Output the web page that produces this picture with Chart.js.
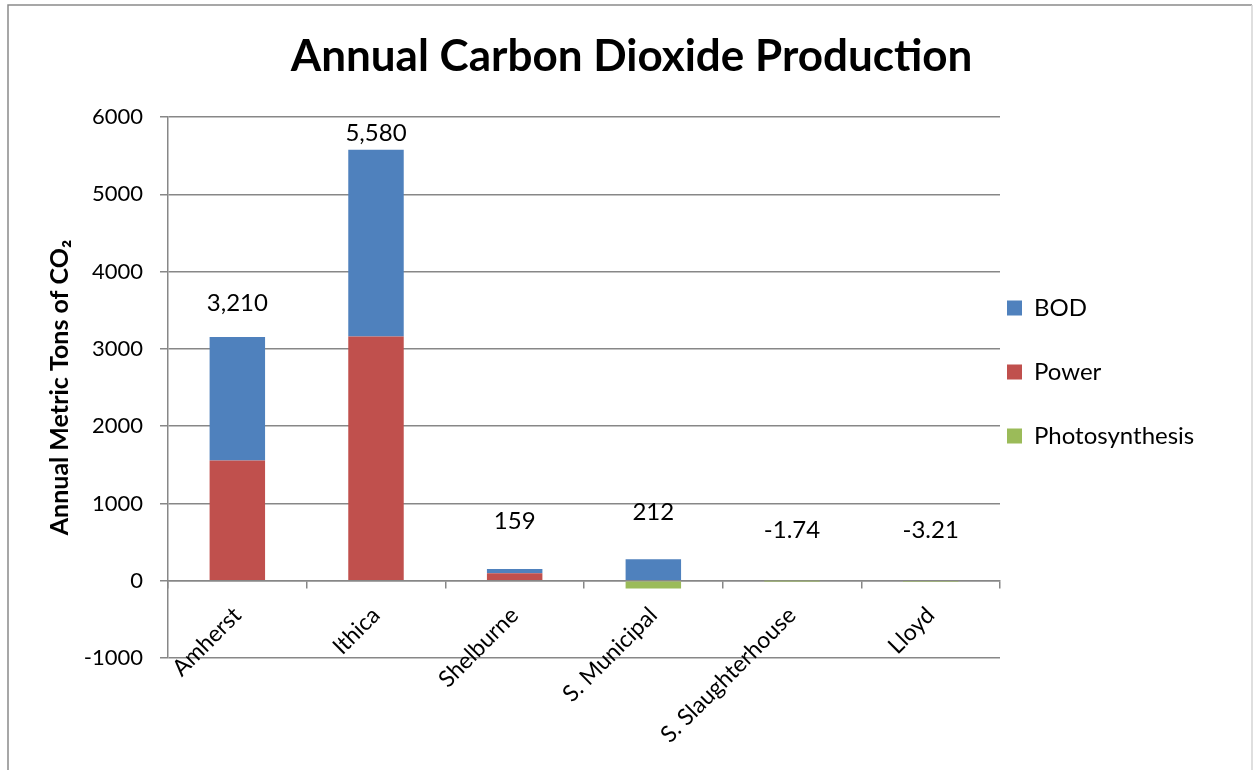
<!DOCTYPE html>
<html><head><meta charset="utf-8">
<script src="https://cdn.jsdelivr.net/npm/chart.js@4"></script>
<style>html,body{margin:0;padding:0;background:#fff;} canvas{display:block;}</style>
</head><body>
<canvas id="c" width="1255" height="770"></canvas>
<script>
// ---- data ----
const categories = ['Amherst', 'Ithica', 'Shelburne', 'S. Municipal', 'S. Slaughterhouse', 'Lloyd'];
const powerValues = [1554, 3159, 95, 0, 0, 0];
const bodValues = [1598, 2416, 57, 277, 0, 0];
const photosynthesisValues = [0, 0, 0, -100, -1.74, -3.21];
const totalLabels = ['3,210', '5,580', '159', '212', '-1.74', '-3.21'];
const yTickValues = [-1000, 0, 1000, 2000, 3000, 4000, 5000, 6000];

// ---- layout / style ----
const FONT = 'Lato';
const labelOffsetsPx = [34, 17, 48, 47, 50, 50];
const plotLeft = 168, plotRight = 1000, plotTop = 117, W = 1255, H = 770, padTop = 5;
const legendPad = 7, legendBox = 15, legendFontSize = 24;
const firstLegendCenterY = 308;
const mctx = document.createElement('canvas').getContext('2d');
mctx.font = legendFontSize + 'px ' + FONT;
const legendTextW = Math.max(...['BOD', 'Power', 'Photosynthesis'].map(t => mctx.measureText(t).width));
const legendW = legendPad + legendBox + legendFontSize / 2 + legendTextW + 10;
const padR = Math.max(0, W - plotRight - legendW);
const padL = padR + 8;
const yTitleCenterX = 60;
const yTitleSize = 25;
const legendShift = firstLegendCenterY - legendFontSize / 2 - padTop - legendPad;
const grid = '#878787';

const framePlugin = {
  id: 'frame',
  beforeDraw(chart) {
    const c = chart.ctx;
    c.save();
    c.fillStyle = '#fff';
    c.fillRect(0, 0, chart.width, chart.height);
    c.lineWidth = 1.5;
    c.strokeStyle = '#8a8a8a';
    c.beginPath(); c.moveTo(8, H + 5); c.lineTo(8, 5); c.lineTo(1252, 5); c.stroke();
    c.strokeStyle = '#d4d4d4';
    c.beginPath(); c.moveTo(1252, 5); c.lineTo(1252, H + 5); c.stroke();
    c.restore();
  }
};

const totalsPlugin = {
  id: 'totals',
  afterDatasetsDraw(chart) {
    const ys = chart.scales.y, xs = chart.scales.x, ctx = chart.ctx;
    ctx.save();
    ctx.font = '24px ' + FONT;
    ctx.fillStyle = '#000';
    ctx.textAlign = 'center';
    ctx.textBaseline = 'middle';
    categories.forEach((c, i) => {
      const pos = Math.max(0, powerValues[i]) + Math.max(0, bodValues[i]) + Math.max(0, photosynthesisValues[i]);
      const top = ys.getPixelForValue(pos);
      ctx.fillText(totalLabels[i], xs.getPixelForValue(i), top - labelOffsetsPx[i]);
    });
    ctx.restore();
  }
};

const legendOrder = {1: 0, 0: 1, 2: 2};

new Chart(document.getElementById('c'), {
  type: 'bar',
  data: {
    labels: categories,
    datasets: [
      { label: 'Power', data: powerValues, backgroundColor: '#C0504D', borderWidth: 0 },
      { label: 'BOD', data: bodValues, backgroundColor: '#4F81BD', borderWidth: 0 },
      { label: 'Photosynthesis', data: photosynthesisValues, backgroundColor: '#9BBB59', borderWidth: 0 }
    ]
  },
  options: {
    responsive: false,
    animation: false,
    devicePixelRatio: 1,
    barPercentage: 0.4,
    categoryPercentage: 1.0,
    layout: { padding: { left: padL, right: padR, top: padTop, bottom: H - 658 } },
    plugins: {
      title: {
        display: true,
        text: 'Annual Carbon Dioxide Production',
        color: '#000',
        font: { family: FONT, size: 44, weight: 'bold', lineHeight: '48px' },
        padding: { top: 28, bottom: plotTop - padTop - 28 - 48 }
      },
      legend: {
        display: true,
        position: 'right',
        align: 'start',
        title: { display: true, text: '', font: { size: 10, lineHeight: '10px' }, padding: { top: legendShift - 10, bottom: 0 } },
        labels: {
          color: '#000',
          boxWidth: legendBox,
          boxHeight: legendBox,
          padding: legendPad,
          font: { family: FONT, size: legendFontSize, lineHeight: '57px' },
          generateLabels(chart) {
            return Chart.defaults.plugins.legend.labels.generateLabels(chart)
              .map(it => Object.assign(it, { text: [it.text] }));
          },
          sort(a, b) { return legendOrder[a.datasetIndex] - legendOrder[b.datasetIndex]; }
        }
      },
      tooltip: { enabled: false }
    },
    scales: {
      x: {
        type: 'category',
        stacked: true,
        position: { y: 0 },
        offset: true,
        grid: { display: true, drawOnChartArea: false, drawTicks: true, tickLength: 7, color: grid, lineWidth: 1.5, offset: true },
        border: { display: true, color: grid, width: 1.5 },
        ticks: { font: { family: FONT, size: 23 }, color: '#000', minRotation: 45, maxRotation: 45, autoSkip: false, padding: 14 }
      },
      y: {
        stacked: true,
        min: yTickValues[0],
        max: yTickValues[yTickValues.length - 1],
        afterBuildTicks(s) { s.ticks = yTickValues.map(v => ({ value: v })); },
        afterFit(s) { s.width = plotLeft - padL; },
        ticks: { font: { family: FONT, size: 22 }, color: '#000', padding: 17, callback: v => String(v) },
        grid: { color: grid, lineWidth: 1.5, tickLength: 8, drawTicks: true },
        border: { display: true, color: grid, width: 1.5 },
        title: {
          display: true,
          text: 'Annual Metric Tons of CO\u2082',
          color: '#000',
          font: { family: FONT, size: yTitleSize, weight: 'bold', lineHeight: 1.2 },
          padding: { top: yTitleCenterX - padL - yTitleSize * 0.6, bottom: 0 }
        }
      }
    }
  },
  plugins: [framePlugin, totalsPlugin]
});
</script>
</body></html>
